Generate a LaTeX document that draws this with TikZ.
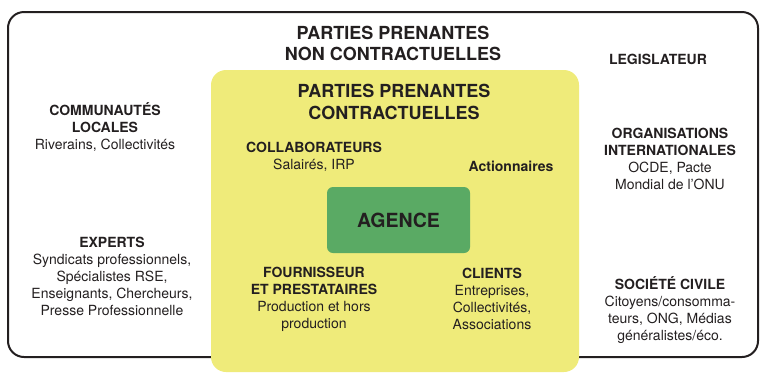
\documentclass[tikz,border=0pt]{standalone}
\usepackage{fontspec}
\setmainfont{TeX Gyre Heros}
\definecolor{ink}{RGB}{35,31,32}
\definecolor{yel}{RGB}{239,235,122}
\definecolor{grn}{RGB}{90,170,100}
\tikzset{
  lbl/.style={align=center,text=ink,font=\fontsize{14}{17}\selectfont,inner sep=0pt},
  ttl/.style={align=center,text=ink,font=\fontsize{18}{21.5}\selectfont\bfseries,inner sep=0pt},
}
\begin{document}
\begin{tikzpicture}[x=1pt,y=-1pt]
\useasboundingbox (0,0) rectangle (760,373);
% outer frame
\draw[ink,line width=2pt,rounded corners=16pt] (8,12) rectangle (758,357);
% contractual zone
\fill[yel,rounded corners=15pt] (211,70) rectangle (579,372);
% agency
\node[fill=grn,rounded corners=6pt,minimum width=143pt,minimum height=66pt,inner sep=0pt,
      text=ink,font=\fontsize{19.5}{22}\selectfont\bfseries] (agence) at (398.5,220) {AGENCE};

\node[ttl] (nonc) at (393,43.5) {PARTIES PRENANTES\\NON CONTRACTUELLES};
\node[ttl] (contr) at (394,102) {PARTIES PRENANTES\\CONTRACTUELLES};

\node[lbl] (comm) at (105,127) {\textbf{COMMUNAUTÉS}\\\textbf{LOCALES}\\Riverains, Collectivités};
\node[lbl] (expe) at (112,276.5) {\textbf{EXPERTS}\\Syndicats professionnels,\\Spécialistes RSE,\\Enseignants, Chercheurs,\\Presse Professionnelle};

\node[lbl] (coll) at (314,157) {\textbf{COLLABORATEURS}\\Salairés, IRP};
\node[lbl] (acti) at (511,166) {\textbf{Actionnaires}};
\node[lbl] (four) at (314,299.5) {\textbf{FOURNISSEUR}\\\textbf{ET PRESTATAIRES}\\Production et hors\\production};
\node[lbl] (clie) at (492,299) {\textbf{CLIENTS}\\Entreprises,\\Collectivités,\\Associations};

\node[lbl] (legi) at (658,59) {\textbf{LEGISLATEUR}};
\node[lbl] (orga) at (670,158.5) {\textbf{ORGANISATIONS}\\\textbf{INTERNATIONALES}\\OCDE, Pacte\\Mondial de l'ONU};
\node[lbl] (soci) at (670,310) {\textbf{SOCIÉTÉ CIVILE}\\Citoyens/consomma-\\teurs, ONG, Médias\\généralistes/éco.};
\end{tikzpicture}
\end{document}
